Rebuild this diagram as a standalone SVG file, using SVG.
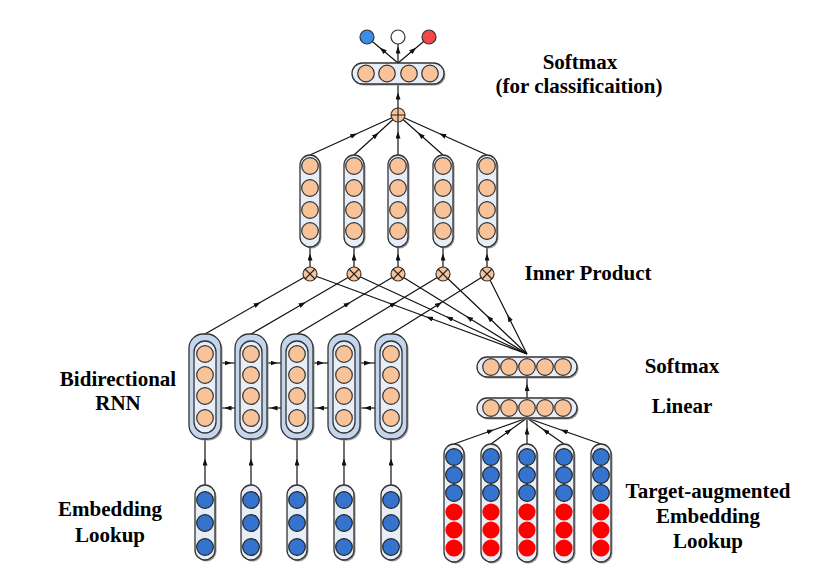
<svg xmlns="http://www.w3.org/2000/svg" width="815" height="583" viewBox="0 0 815 583">
<defs>
<marker id="ah" markerUnits="userSpaceOnUse" markerWidth="7" markerHeight="5" refX="3.5" refY="2.5" orient="auto"><path d="M0,0 L7,2.5 L0,5 z" fill="#111"/></marker>
<style>
.c{fill:none;stroke:#111;stroke-width:1.2;marker-mid:url(#ah)}
.box{fill:#E7EEF8;stroke:#333;stroke-width:1.3}
.sh{fill:#9a9a9a}
.outer{fill:#C4D5EE;stroke:#333;stroke-width:1.3}
.o{fill:#F8C398;stroke:#333;stroke-width:1.2}
.b{fill:#3474CF;stroke:#222;stroke-width:1.2}
.r{fill:#FF0000}
.op{stroke:#222;stroke-width:1.1}
.t{font-family:"Liberation Serif","Times New Roman",serif;font-weight:bold;font-size:21px;fill:#000;text-anchor:middle}
</style>
</defs>
<rect width="815" height="583" fill="#fff"/>
<g id="connectors">
<path class="c" d="M398,63 L382.5,50 L367,37"/>
<path class="c" d="M398,63 L398,50 L398,37"/>
<path class="c" d="M398,63 L413.5,50 L429,37"/>
<path class="c" d="M398,108 L398,96 L398,84"/>
<path class="c" d="M310,155 L354,135 L398,115"/>
<path class="c" d="M354,155 L376,135 L398,115"/>
<path class="c" d="M398,155 L398,135 L398,115"/>
<path class="c" d="M443,155 L420.5,135 L398,115"/>
<path class="c" d="M487,155 L442.5,135 L398,115"/>
<path class="c" d="M310,267 L310,257 L310,247"/>
<path class="c" d="M354,267 L354,257 L354,247"/>
<path class="c" d="M398,267 L398,257 L398,247"/>
<path class="c" d="M443,267 L443,257 L443,247"/>
<path class="c" d="M487,267 L487,257 L487,247"/>
<path class="c" d="M205,334 L257.5,304 L310,274"/>
<path class="c" d="M251,334 L302.5,304 L354,274"/>
<path class="c" d="M297,334 L347.5,304 L398,274"/>
<path class="c" d="M344,334 L393.5,304 L443,274"/>
<path class="c" d="M391,334 L439,304 L487,274"/>
<path class="c" d="M527,354 L429.4,318 L310,274"/>
<path class="c" d="M527,354 L449.2,318 L354,274"/>
<path class="c" d="M527,354 L469,318 L398,274"/>
<path class="c" d="M527,354 L489.2,318 L443,274"/>
<path class="c" d="M527,354 L509,318 L487,274"/>
<path class="c" d="M221,363 L228,363 L235,363"/>
<path class="c" d="M267,363 L274,363 L281,363"/>
<path class="c" d="M313,363 L320.5,363 L328,363"/>
<path class="c" d="M360,363 L367.5,363 L375,363"/>
<path class="c" d="M235,408 L228,408 L221,408"/>
<path class="c" d="M281,408 L274,408 L267,408"/>
<path class="c" d="M328,408 L320.5,408 L313,408"/>
<path class="c" d="M375,408 L367.5,408 L360,408"/>
<path class="c" d="M205,485 L205,462 L205,439"/>
<path class="c" d="M251,485 L251,462 L251,439"/>
<path class="c" d="M297,485 L297,462 L297,439"/>
<path class="c" d="M344,485 L344,462 L344,439"/>
<path class="c" d="M391,485 L391,462 L391,439"/>
<path class="c" d="M527,398 L527,387.5 L527,377"/>
<path class="c" d="M454,444 L490.5,431 L527,418"/>
<path class="c" d="M491,444 L509,431 L527,418"/>
<path class="c" d="M527,444 L527,431 L527,418"/>
<path class="c" d="M564,444 L545.5,431 L527,418"/>
<path class="c" d="M601,444 L564,431 L527,418"/>
</g>
<g id="output">
<circle cx="367" cy="37" r="7" fill="#3A8EEA" stroke="#333" stroke-width="1.2"/>
<circle cx="398" cy="37" r="7" fill="#fff" stroke="#333" stroke-width="1.2"/>
<circle cx="429" cy="37" r="7" fill="#F24848" stroke="#333" stroke-width="1.2"/>
</g>
<g id="softmax-top">
<rect class="sh" x="353.5" y="64.5" width="92" height="21" rx="10.5"/>
<rect class="box" x="352" y="63" width="92" height="21" rx="10.5"/>
<circle class="o" cx="366" cy="73.5" r="8.3"/>
<circle class="o" cx="387" cy="73.5" r="8.3"/>
<circle class="o" cx="409" cy="73.5" r="8.3"/>
<circle class="o" cx="430" cy="73.5" r="8.3"/>
</g>
<g id="sum">
<circle class="o" cx="398" cy="115" r="7"/>
<path class="op" d="M391,115 H405 M398,108 V122"/>
</g>
<g id="attn-vectors">
<g id="av1"><rect class="sh" x="301.5" y="156.5" width="20" height="92" rx="10"/><rect class="box" x="300" y="155" width="20" height="92" rx="10"/><circle class="o" cx="310" cy="166" r="8.3"/><circle class="o" cx="310" cy="188" r="8.3"/><circle class="o" cx="310" cy="210" r="8.3"/><circle class="o" cx="310" cy="231" r="8.3"/></g>
<g id="av2"><rect class="sh" x="345.5" y="156.5" width="20" height="92" rx="10"/><rect class="box" x="344" y="155" width="20" height="92" rx="10"/><circle class="o" cx="354" cy="166" r="8.3"/><circle class="o" cx="354" cy="188" r="8.3"/><circle class="o" cx="354" cy="210" r="8.3"/><circle class="o" cx="354" cy="231" r="8.3"/></g>
<g id="av3"><rect class="sh" x="389.5" y="156.5" width="20" height="92" rx="10"/><rect class="box" x="388" y="155" width="20" height="92" rx="10"/><circle class="o" cx="398" cy="166" r="8.3"/><circle class="o" cx="398" cy="188" r="8.3"/><circle class="o" cx="398" cy="210" r="8.3"/><circle class="o" cx="398" cy="231" r="8.3"/></g>
<g id="av4"><rect class="sh" x="434.5" y="156.5" width="20" height="92" rx="10"/><rect class="box" x="433" y="155" width="20" height="92" rx="10"/><circle class="o" cx="443" cy="166" r="8.3"/><circle class="o" cx="443" cy="188" r="8.3"/><circle class="o" cx="443" cy="210" r="8.3"/><circle class="o" cx="443" cy="231" r="8.3"/></g>
<g id="av5"><rect class="sh" x="478.5" y="156.5" width="20" height="92" rx="10"/><rect class="box" x="477" y="155" width="20" height="92" rx="10"/><circle class="o" cx="487" cy="166" r="8.3"/><circle class="o" cx="487" cy="188" r="8.3"/><circle class="o" cx="487" cy="210" r="8.3"/><circle class="o" cx="487" cy="231" r="8.3"/></g>
</g>
<g id="inner-products">
<g id="ip1"><circle class="o" cx="310" cy="274" r="7"/><path class="op" d="M305,269 L315,279 M315,269 L305,279"/></g>
<g id="ip2"><circle class="o" cx="354" cy="274" r="7"/><path class="op" d="M349,269 L359,279 M359,269 L349,279"/></g>
<g id="ip3"><circle class="o" cx="398" cy="274" r="7"/><path class="op" d="M393,269 L403,279 M403,269 L393,279"/></g>
<g id="ip4"><circle class="o" cx="443" cy="274" r="7"/><path class="op" d="M438,269 L448,279 M448,269 L438,279"/></g>
<g id="ip5"><circle class="o" cx="487" cy="274" r="7"/><path class="op" d="M482,269 L492,279 M492,269 L482,279"/></g>
</g>
<g id="birnn">
<g id="rnn1"><rect class="sh" x="190.5" y="335.5" width="32" height="105" rx="14"/><rect class="outer" x="189" y="334" width="32" height="105" rx="14"/><rect class="box" x="194" y="341" width="22" height="92" rx="11"/><circle class="o" cx="205" cy="354" r="8.3"/><circle class="o" cx="205" cy="375" r="8.3"/><circle class="o" cx="205" cy="396" r="8.3"/><circle class="o" cx="205" cy="418" r="8.3"/></g>
<g id="rnn2"><rect class="sh" x="236.5" y="335.5" width="32" height="105" rx="14"/><rect class="outer" x="235" y="334" width="32" height="105" rx="14"/><rect class="box" x="240" y="341" width="22" height="92" rx="11"/><circle class="o" cx="251" cy="354" r="8.3"/><circle class="o" cx="251" cy="375" r="8.3"/><circle class="o" cx="251" cy="396" r="8.3"/><circle class="o" cx="251" cy="418" r="8.3"/></g>
<g id="rnn3"><rect class="sh" x="282.5" y="335.5" width="32" height="105" rx="14"/><rect class="outer" x="281" y="334" width="32" height="105" rx="14"/><rect class="box" x="286" y="341" width="22" height="92" rx="11"/><circle class="o" cx="297" cy="354" r="8.3"/><circle class="o" cx="297" cy="375" r="8.3"/><circle class="o" cx="297" cy="396" r="8.3"/><circle class="o" cx="297" cy="418" r="8.3"/></g>
<g id="rnn4"><rect class="sh" x="329.5" y="335.5" width="32" height="105" rx="14"/><rect class="outer" x="328" y="334" width="32" height="105" rx="14"/><rect class="box" x="333" y="341" width="22" height="92" rx="11"/><circle class="o" cx="344" cy="354" r="8.3"/><circle class="o" cx="344" cy="375" r="8.3"/><circle class="o" cx="344" cy="396" r="8.3"/><circle class="o" cx="344" cy="418" r="8.3"/></g>
<g id="rnn5"><rect class="sh" x="376.5" y="335.5" width="32" height="105" rx="14"/><rect class="outer" x="375" y="334" width="32" height="105" rx="14"/><rect class="box" x="380" y="341" width="22" height="92" rx="11"/><circle class="o" cx="391" cy="354" r="8.3"/><circle class="o" cx="391" cy="375" r="8.3"/><circle class="o" cx="391" cy="396" r="8.3"/><circle class="o" cx="391" cy="418" r="8.3"/></g>
</g>
<g id="embeddings">
<g id="emb1"><rect class="sh" x="196.5" y="486.5" width="20" height="75" rx="10"/><rect class="box" x="195" y="485" width="20" height="75" rx="10"/><circle class="b" cx="205" cy="500" r="8.3"/><circle class="b" cx="205" cy="523" r="8.3"/><circle class="b" cx="205" cy="547" r="8.3"/></g>
<g id="emb2"><rect class="sh" x="242.5" y="486.5" width="20" height="75" rx="10"/><rect class="box" x="241" y="485" width="20" height="75" rx="10"/><circle class="b" cx="251" cy="500" r="8.3"/><circle class="b" cx="251" cy="523" r="8.3"/><circle class="b" cx="251" cy="547" r="8.3"/></g>
<g id="emb3"><rect class="sh" x="288.5" y="486.5" width="20" height="75" rx="10"/><rect class="box" x="287" y="485" width="20" height="75" rx="10"/><circle class="b" cx="297" cy="500" r="8.3"/><circle class="b" cx="297" cy="523" r="8.3"/><circle class="b" cx="297" cy="547" r="8.3"/></g>
<g id="emb4"><rect class="sh" x="335.5" y="486.5" width="20" height="75" rx="10"/><rect class="box" x="334" y="485" width="20" height="75" rx="10"/><circle class="b" cx="344" cy="500" r="8.3"/><circle class="b" cx="344" cy="523" r="8.3"/><circle class="b" cx="344" cy="547" r="8.3"/></g>
<g id="emb5"><rect class="sh" x="382.5" y="486.5" width="20" height="75" rx="10"/><rect class="box" x="381" y="485" width="20" height="75" rx="10"/><circle class="b" cx="391" cy="500" r="8.3"/><circle class="b" cx="391" cy="523" r="8.3"/><circle class="b" cx="391" cy="547" r="8.3"/></g>
</g>
<g id="softmax-right">
<rect class="sh" x="478.5" y="358.5" width="100" height="20" rx="10"/>
<rect class="box" x="477" y="357" width="100" height="20" rx="10"/>
<circle class="o" cx="491" cy="367" r="8.3"/><circle class="o" cx="509" cy="367" r="8.3"/><circle class="o" cx="527" cy="367" r="8.3"/><circle class="o" cx="545" cy="367" r="8.3"/><circle class="o" cx="563" cy="367" r="8.3"/>
</g>
<g id="linear">
<rect class="sh" x="478.5" y="399.5" width="100" height="20" rx="10"/>
<rect class="box" x="477" y="398" width="100" height="20" rx="10"/>
<circle class="o" cx="491" cy="408" r="8.3"/><circle class="o" cx="509" cy="408" r="8.3"/><circle class="o" cx="527" cy="408" r="8.3"/><circle class="o" cx="545" cy="408" r="8.3"/><circle class="o" cx="563" cy="408" r="8.3"/>
</g>
<g id="target-embeddings">
<g id="te1"><rect class="sh" x="445.5" y="445.5" width="20" height="118" rx="10"/><rect class="box" x="444" y="444" width="20" height="118" rx="10"/><circle class="b" cx="454" cy="457" r="8.3"/><circle class="b" cx="454" cy="475" r="8.3"/><circle class="b" cx="454" cy="493" r="8.3"/><circle class="r" cx="454" cy="512" r="8.6"/><circle class="r" cx="454" cy="530" r="8.6"/><circle class="r" cx="454" cy="548" r="8.6"/></g>
<g id="te2"><rect class="sh" x="482.5" y="445.5" width="20" height="118" rx="10"/><rect class="box" x="481" y="444" width="20" height="118" rx="10"/><circle class="b" cx="491" cy="457" r="8.3"/><circle class="b" cx="491" cy="475" r="8.3"/><circle class="b" cx="491" cy="493" r="8.3"/><circle class="r" cx="491" cy="512" r="8.6"/><circle class="r" cx="491" cy="530" r="8.6"/><circle class="r" cx="491" cy="548" r="8.6"/></g>
<g id="te3"><rect class="sh" x="518.5" y="445.5" width="20" height="118" rx="10"/><rect class="box" x="517" y="444" width="20" height="118" rx="10"/><circle class="b" cx="527" cy="457" r="8.3"/><circle class="b" cx="527" cy="475" r="8.3"/><circle class="b" cx="527" cy="493" r="8.3"/><circle class="r" cx="527" cy="512" r="8.6"/><circle class="r" cx="527" cy="530" r="8.6"/><circle class="r" cx="527" cy="548" r="8.6"/></g>
<g id="te4"><rect class="sh" x="555.5" y="445.5" width="20" height="118" rx="10"/><rect class="box" x="554" y="444" width="20" height="118" rx="10"/><circle class="b" cx="564" cy="457" r="8.3"/><circle class="b" cx="564" cy="475" r="8.3"/><circle class="b" cx="564" cy="493" r="8.3"/><circle class="r" cx="564" cy="512" r="8.6"/><circle class="r" cx="564" cy="530" r="8.6"/><circle class="r" cx="564" cy="548" r="8.6"/></g>
<g id="te5"><rect class="sh" x="592.5" y="445.5" width="20" height="118" rx="10"/><rect class="box" x="591" y="444" width="20" height="118" rx="10"/><circle class="b" cx="601" cy="457" r="8.3"/><circle class="b" cx="601" cy="475" r="8.3"/><circle class="b" cx="601" cy="493" r="8.3"/><circle class="r" cx="601" cy="512" r="8.6"/><circle class="r" cx="601" cy="530" r="8.6"/><circle class="r" cx="601" cy="548" r="8.6"/></g>
</g>
<g id="labels">
<text class="t" x="580" y="69">Softmax</text>
<text class="t" x="579" y="93">(for classificaition)</text>
<text class="t" x="588" y="280">Inner Product</text>
<text class="t" x="118" y="386">Bidirectional</text>
<text class="t" x="118" y="410">RNN</text>
<text class="t" x="682" y="373">Softmax</text>
<text class="t" x="682" y="413">Linear</text>
<text class="t" x="110" y="516">Embedding</text>
<text class="t" x="110" y="542">Lookup</text>
<text class="t" x="708" y="498">Target-augmented</text>
<text class="t" x="708" y="523">Embedding</text>
<text class="t" x="708" y="548">Lookup</text>
</g>
</svg>
